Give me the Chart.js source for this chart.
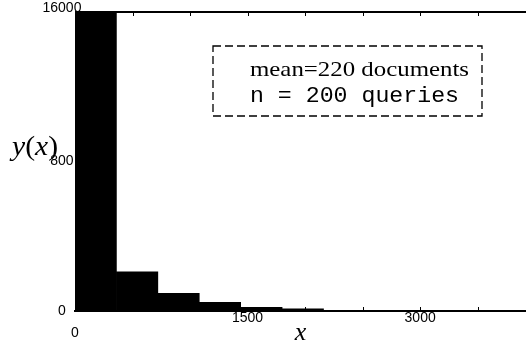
<!DOCTYPE html>
<html>
<head>
<meta charset="utf-8">
<script src="https://cdn.jsdelivr.net/npm/chart.js@4"></script>
<style>
  html, body { margin: 0; padding: 0; background: #fff; }
  canvas { display: block; }
</style>
</head>
<body>
<canvas id="c" width="526" height="349"></canvas>
<script>
// Histogram of result-set sizes (documents per query)
const binCenters  = [180, 540, 900, 1260, 1620, 1980, 2340, 2700, 3060, 3420, 3780];
const binCounts   = [1600, 210, 95, 46, 20, 11, 2, 1, 3, 3, 1];
const xTickValues = [0, 1500, 3000];
const xTickLabels = ['0', '1500', '3000'];
const yTickValues = [0, 800, 1600];
const yTickLabels = ['0', '800', '16000'];
const minorStep   = 500;
const statLines   = ['mean=220 documents', 'n = 200 queries'];
const yTitleParts = ['y', '(', 'x', ')'];

// draw a sequence of text runs, stretched horizontally to a given width
function drawRuns(ctx, runs, x, y, width) {
  let total = 0;
  runs.forEach(r => { ctx.font = r.font; total += ctx.measureText(r.text).width; });
  const s = width ? width / total : 1;
  ctx.save();
  ctx.translate(x, y);
  ctx.scale(s, 1);
  ctx.textBaseline = 'alphabetic';
  ctx.textAlign = 'left';
  ctx.fillStyle = '#000';
  let cx = 0;
  runs.forEach(r => {
    ctx.font = r.font;
    ctx.fillText(r.text, cx, 0);
    cx += ctx.measureText(r.text).width;
  });
  ctx.restore();
}

const decorations = {
  id: 'decorations',
  afterDatasetsDraw(chart) {
    const { ctx, chartArea: a, scales: { x } } = chart;
    ctx.save();
    ctx.strokeStyle = '#000';

    // top frame line
    ctx.lineWidth = 2;
    ctx.beginPath();
    ctx.moveTo(a.left, a.top);
    ctx.lineTo(a.right, a.top);
    ctx.stroke();

    // inward tick marks on top and bottom
    ctx.lineWidth = 1;
    for (let v = 0; v <= x.max; v += minorStep) {
      const px = Math.round(x.getPixelForValue(v)) + 0.5;
      ctx.beginPath();
      ctx.moveTo(px, a.top);
      ctx.lineTo(px, a.top + 4);
      ctx.moveTo(px, a.bottom);
      ctx.lineTo(px, a.bottom - 4);
      ctx.stroke();
    }

    // summary box
    ctx.setLineDash([8, 4]);
    ctx.lineWidth = 1.3;
    ctx.strokeRect(213, 46, 269, 70);
    ctx.setLineDash([]);
    ctx.restore();

    drawRuns(ctx, [{ text: statLines[0], font: '21px "Liberation Serif"' }], 250, 76, 219);
    drawRuns(ctx, [{ text: statLines[1], font: '22px "Liberation Mono"' }], 250, 102, 209);

    // y-axis title, upright
    const it = 'italic 27px "Liberation Serif"';
    const up = '27px "Liberation Serif"';
    drawRuns(ctx, yTitleParts.map((p, i) => ({ text: p, font: i % 2 === 0 ? it : up })), 12, 155, 46);
  }
};

new Chart(document.getElementById('c'), {
  type: 'bar',
  data: {
    datasets: [{
      data: binCenters.map((c, i) => ({ x: c, y: binCounts[i] })),
      backgroundColor: '#000',
      borderWidth: 0,
      barPercentage: 1,
      categoryPercentage: 1
    }]
  },
  options: {
    responsive: false,
    animation: false,
    devicePixelRatio: 1,
    layout: { padding: { left: 0, right: 0, top: 12, bottom: 0 } },
    plugins: { legend: { display: false }, tooltip: { enabled: false } },
    scales: {
      x: {
        type: 'linear',
        min: 0,
        max: 3920,
        offset: false,
        grid: { display: false, drawTicks: false },
        border: { display: true, color: '#000', width: 2 },
        afterBuildTicks(s) { s.ticks = xTickValues.map(v => ({ value: v })); },
        ticks: {
          autoSkip: false,
          maxRotation: 0,
          minRotation: 0,
          padding: 0,
          color: '#000',
          font: { family: '"Liberation Sans"', size: 14, lineHeight: 1.05 },
          callback: (v) => {
            const i = xTickValues.indexOf(v);
            if (i < 0) return '';
            return v === 0 ? ['', xTickLabels[i]] : xTickLabels[i];
          }
        },
        title: {
          display: true,
          text: 'x',
          color: '#000',
          font: { family: '"Liberation Serif"', style: 'italic', size: 26, lineHeight: 1.2 },
          padding: { top: 0, bottom: 0 }
        },
        afterFit(s) { s.height = 38; }
      },
      y: {
        min: 0,
        max: 1600,
        z: 1,
        grid: { display: false, drawTicks: false },
        border: { display: false },
        afterBuildTicks(s) { s.ticks = yTickValues.map(v => ({ value: v })); },
        ticks: {
          autoSkip: false,
          mirror: true,
          crossAlign: 'center',
          padding: -32.5,
          color: '#000',
          font: { family: '"Liberation Sans"', size: 14, lineHeight: 0.6 },
          callback: (v) => {
            const i = yTickValues.indexOf(v);
            if (i < 0) return '';
            // the top label sits just above the frame
            return i === yTickValues.length - 1 ? [yTickLabels[i], ''] : yTickLabels[i];
          }
        },
        afterFit(s) { s.width = 75; }
      }
    }
  },
  plugins: [decorations]
});
</script>
</body>
</html>
